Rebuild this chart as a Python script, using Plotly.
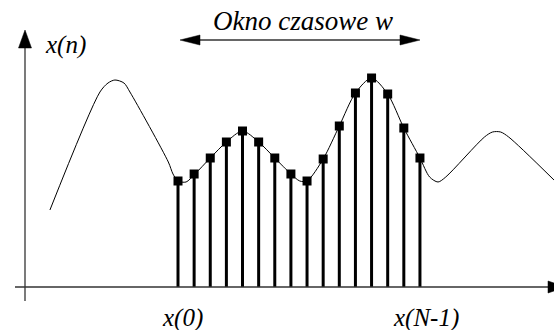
import plotly.graph_objects as go

# ---- data (sample index n, amplitude) ----
sample_n = list(range(16))
sample_vals = [1.06, 1.13, 1.29, 1.45, 1.56, 1.45, 1.29, 1.13, 1.06, 1.28, 1.61, 1.94, 2.09, 1.93, 1.59, 1.29]

# continuous signal x(t) (same units)
curve_n = [-7.94, -4.84, -4.34, -3.91, -3.35, -2.98, -0.60, -0.31, 0.0, 0.50, 1.05,
           2.0, 3.0, 4.0, 5.0, 6.0, 7.0, 7.55, 8.0, 9.0, 10.0, 11.0, 12.0, 13.0, 14.0,
           15.0, 15.6, 16.12, 16.6, 19.0, 19.5, 20.0, 20.5, 23.31]
curve_v = [0.77, 1.95, 2.04, 2.07, 2.04, 1.95, 1.25, 1.13, 1.06, 1.05, 1.13,
           1.29, 1.45, 1.56, 1.45, 1.29, 1.13, 1.06, 1.06, 1.28, 1.61, 1.94, 2.09, 1.93, 1.59,
           1.29, 1.10, 1.05, 1.10, 1.50, 1.55, 1.55, 1.50, 1.07]

labels_bottom = ["x(0)", "x(N-1)"]
title_text = "Okno czasowe w"
y_label = "x(n)"
x_label = "n"

# ---- geometry (pixel mapping) ----
W, H = 554, 330
X0_PX, DX_PX = 178.0, 16.13
Y0_PX, DY_PX = 287.0, 100.0

def px_x(p):
    return (p - X0_PX) / DX_PX

def px_y(p):
    return (Y0_PX - p) / DY_PX

xr = [px_x(0), px_x(W)]
yr = [px_y(H), px_y(0)]

FONT = "Liberation Serif, Times New Roman, DejaVu Serif, serif"
AXC = "#333333"

fig = go.Figure()

# continuous curve
fig.add_trace(go.Scatter(x=curve_n, y=curve_v, mode="lines",
                         line=dict(color="black", width=1, shape="spline", smoothing=0.8),
                         hoverinfo="skip"))

# stems
sx, sy = [], []
for n, v in zip(sample_n, sample_vals):
    sx += [n, n, None]
    sy += [0, v, None]
fig.add_trace(go.Scatter(x=sx, y=sy, mode="lines", line=dict(color="black", width=3),
                         hoverinfo="skip"))
# markers
fig.add_trace(go.Scatter(x=sample_n, y=sample_vals, mode="markers",
                         marker=dict(symbol="square", size=9, color="black"),
                         hoverinfo="skip"))

# axes lines
fig.add_trace(go.Scatter(x=[px_x(15), px_x(550)], y=[0, 0], mode="lines",
                         line=dict(color=AXC, width=1.3), hoverinfo="skip"))
fig.add_trace(go.Scatter(x=[px_x(25), px_x(25)], y=[px_y(301), px_y(46)], mode="lines",
                         line=dict(color=AXC, width=1.3), hoverinfo="skip"))
# window arrow line
fig.add_trace(go.Scatter(x=[px_x(198), px_x(404)], y=[px_y(40), px_y(40)], mode="lines",
                         line=dict(color=AXC, width=1.3), hoverinfo="skip"))

def tri(pts):
    xs = [px_x(p[0]) for p in pts] + [px_x(pts[0][0])]
    ys = [px_y(p[1]) for p in pts] + [px_y(pts[0][1])]
    fig.add_trace(go.Scatter(x=xs, y=ys, mode="lines", fill="toself",
                             fillcolor="black", line=dict(color="black", width=0.5),
                             hoverinfo="skip"))

# arrowheads
tri([(25, 30), (18.5, 48), (31.5, 48)])          # y axis up
tri([(180, 40), (200, 35), (200, 45)])           # window left
tri([(420, 40), (400, 35), (400, 45)])           # window right
tri([(566, 287), (548, 281), (548, 293)])        # x axis right

annos = [
    dict(x=px_x(303), y=px_y(21), text=title_text, size=27, xa="center"),
    dict(x=px_x(65), y=px_y(45), text=y_label, size=25, xa="center"),
    dict(x=px_x(182), y=px_y(318), text=labels_bottom[0], size=25, xa="center"),
    dict(x=px_x(426), y=px_y(318), text=labels_bottom[1], size=25, xa="center"),
    dict(x=px_x(555), y=px_y(256), text=x_label, size=25, xa="right"),
]
for a in annos:
    fig.add_annotation(x=a["x"], y=a["y"], text="<i>%s</i>" % a["text"], showarrow=False,
                       xanchor=a["xa"], yanchor="middle",
                       font=dict(family=FONT, size=a["size"], color="black"))

fig.update_layout(width=W, height=H, margin=dict(l=0, r=0, t=0, b=0),
                  paper_bgcolor="white", plot_bgcolor="white", showlegend=False,
                  xaxis=dict(range=xr, visible=False, fixedrange=True),
                  yaxis=dict(range=yr, visible=False, fixedrange=True))

fig.write_html("out.html", config={"staticPlot": True},
               post_script="document.body.style.margin='0';document.body.style.overflow='hidden';")
